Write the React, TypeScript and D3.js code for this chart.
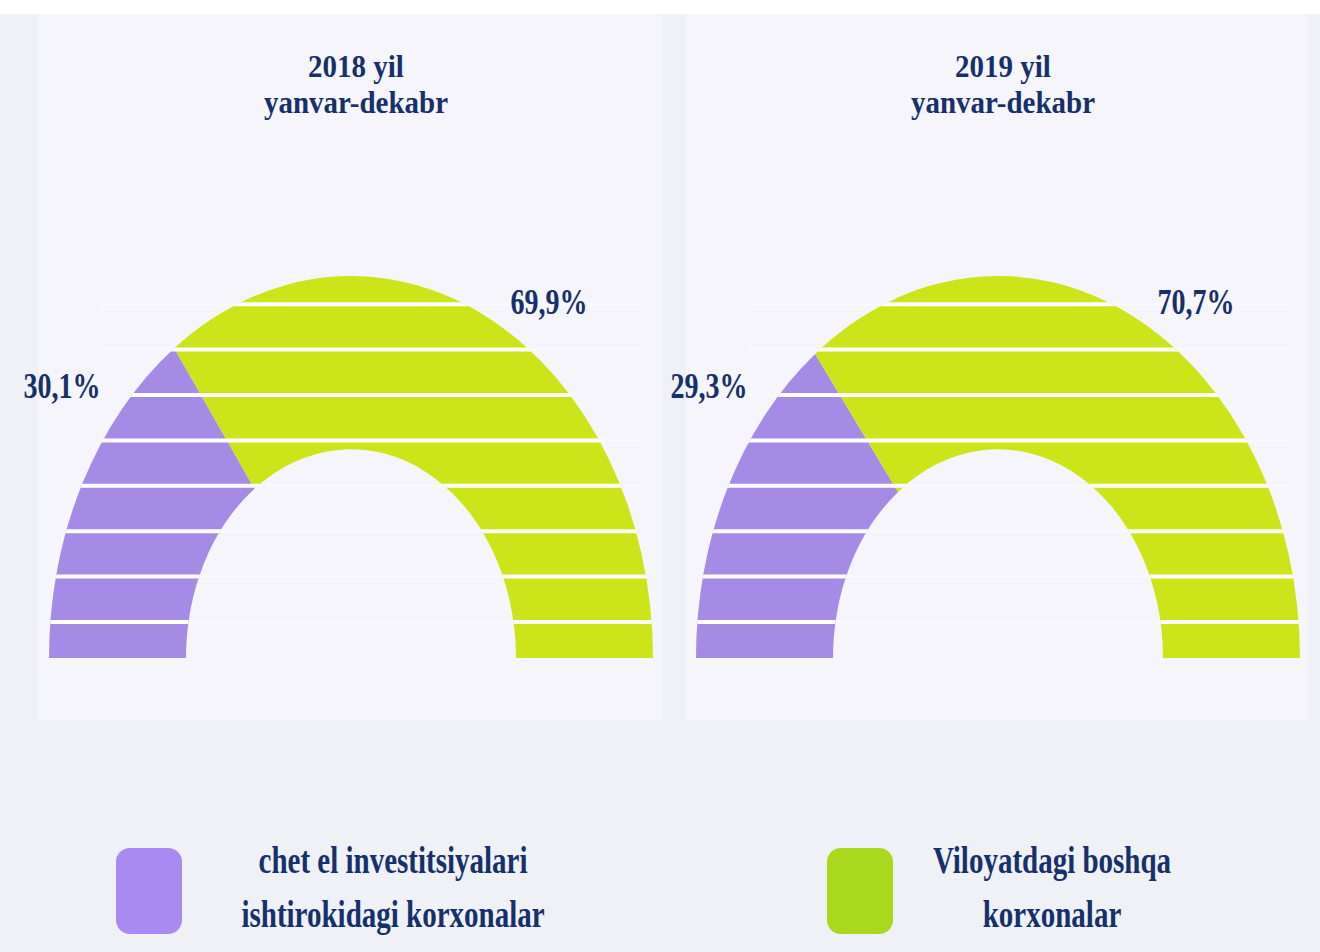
import React from "react";
import * as d3 from "d3";

// chart data
const years = ["2018 yil", "2019 yil"];
const period = "yanvar-dekabr";
const categories = ["chet el investitsiyalari ishtirokidagi korxonalar", "Viloyatdagi boshqa korxonalar"];
const legendLines = [
  ["chet el investitsiyalari", "ishtirokidagi korxonalar"],
  ["Viloyatdagi boshqa", "korxonalar"],
];
const share2018 = [30.1, 69.9];
const share2019 = [29.3, 70.7];
const shares = [share2018, share2019];

const W = 1320;
const H = 952;
const sliceColors = ["#a58ae6", "#cce51b"];
const legendColors = ["#a88af0", "#a9d81d"];
const textColor = "#16306c";
const font = "'Liberation Serif', 'Times New Roman', serif";

const fmt = (v: number) => d3.format(".1f")(v).replace(".", ",") + "%";

// multi-line bold label, stretched vertically like the source
const Label = ({ x, y, size, lines, gap = 0, stretch = 1.28 }: { x: number; y: number; size: number; lines: string[]; gap?: number; stretch?: number }) => (
  <text
    transform={`translate(${x},${y}) scale(1,${stretch})`}
    textAnchor="middle"
    fontFamily={font}
    fontWeight="bold"
    fontSize={size}
    fill={textColor}
  >
    {lines.map((l, i) => (
      <tspan key={i} x={0} dy={i === 0 ? 0 : gap / stretch}>
        {l}
      </tspan>
    ))}
  </text>
);

const HalfDonut = ({ values, title, cx, idx }: { values: number[]; title: string; cx: number; idx: number }) => {
  const baseY = 658;
  const outerR = 302;
  const innerR = 165;
  const stretch = 1.265; // semicircle is drawn taller than wide

  const pie = d3.pie<number>()
    .sort(null)
    .startAngle(-Math.PI / 2)
    .endAngle(Math.PI / 2);
  const arc = d3.arc<d3.PieArcDatum<number>>()
    .innerRadius(innerR)
    .outerRadius(outerR);
  const arcs = pie(values);

  // white horizontal stripes across the donut
  const stripeY = d3.range(8).map((k) => baseY - 36 - k * 45.4);

  // label offsets from the donut centre
  const labelPos = [
    { dx: -289, dy: -260 },
    { dx: 198, dy: -344 },
  ];
  const clipId = "donut-clip-" + idx;
  const donutTransform = `translate(${cx},${baseY}) scale(1,${stretch})`;

  return (
    <g>
      <defs>
        <clipPath id={clipId}>
          {arcs.map((a, i) => (
            <path key={i} d={arc(a) || ""} transform={donutTransform} />
          ))}
        </clipPath>
      </defs>
      <Label x={cx + 5} y={77} size={29} lines={[title, period]} gap={36.5} stretch={1.12} />
      {stripeY.map((y, i) => (
        <line key={"f" + i} x1={cx - 250} x2={cx + 290} y1={y} y2={y} stroke="#ffffff" strokeWidth={3} opacity={0.35} />
      ))}
      <g transform={donutTransform}>
        {arcs.map((a, i) => (
          <path key={i} d={arc(a) || ""} fill={sliceColors[i]} />
        ))}
      </g>
      <g clipPath={`url(#${clipId})`}>
        {stripeY.map((y, i) => (
          <line key={i} x1={cx - outerR - 4} x2={cx + outerR + 4} y1={y} y2={y} stroke="#ffffff" strokeWidth={4} />
        ))}
      </g>
      {values.map((v, i) => (
        <Label key={"l" + i} x={cx + labelPos[i].dx} y={baseY + labelPos[i].dy} size={28} lines={[fmt(v)]} />
      ))}
    </g>
  );
};

const App = () => {
  const centers = [351, 998];
  const panels = [
    { x: 38, w: 624 },
    { x: 686, w: 622 },
  ];
  const legendX = [116, 827];
  const legendTextX = [393, 1052];

  return (
    <svg width={W} height={H} style={{ position: "absolute", left: 0, top: 0, display: "block" }}>
      <rect x={0} y={0} width={W} height={H} fill="#eff1f6" />
      <rect x={0} y={0} width={W} height={14} fill="#ffffff" />
      {panels.map((p, i) => (
        <rect key={i} x={p.x} y={14} width={p.w} height={706} fill="#f6f5fc" />
      ))}
      {shares.map((vals, i) => (
        <HalfDonut key={i} idx={i} values={vals} title={years[i]} cx={centers[i]} />
      ))}
      {categories.map((c, i) => (
        <g key={c}>
          <rect x={legendX[i]} y={848} width={66} height={86} rx={14} fill={legendColors[i]} />
          <Label x={legendTextX[i]} y={873} size={29} lines={legendLines[i]} gap={54} />
        </g>
      ))}
    </svg>
  );
};

export default App;
